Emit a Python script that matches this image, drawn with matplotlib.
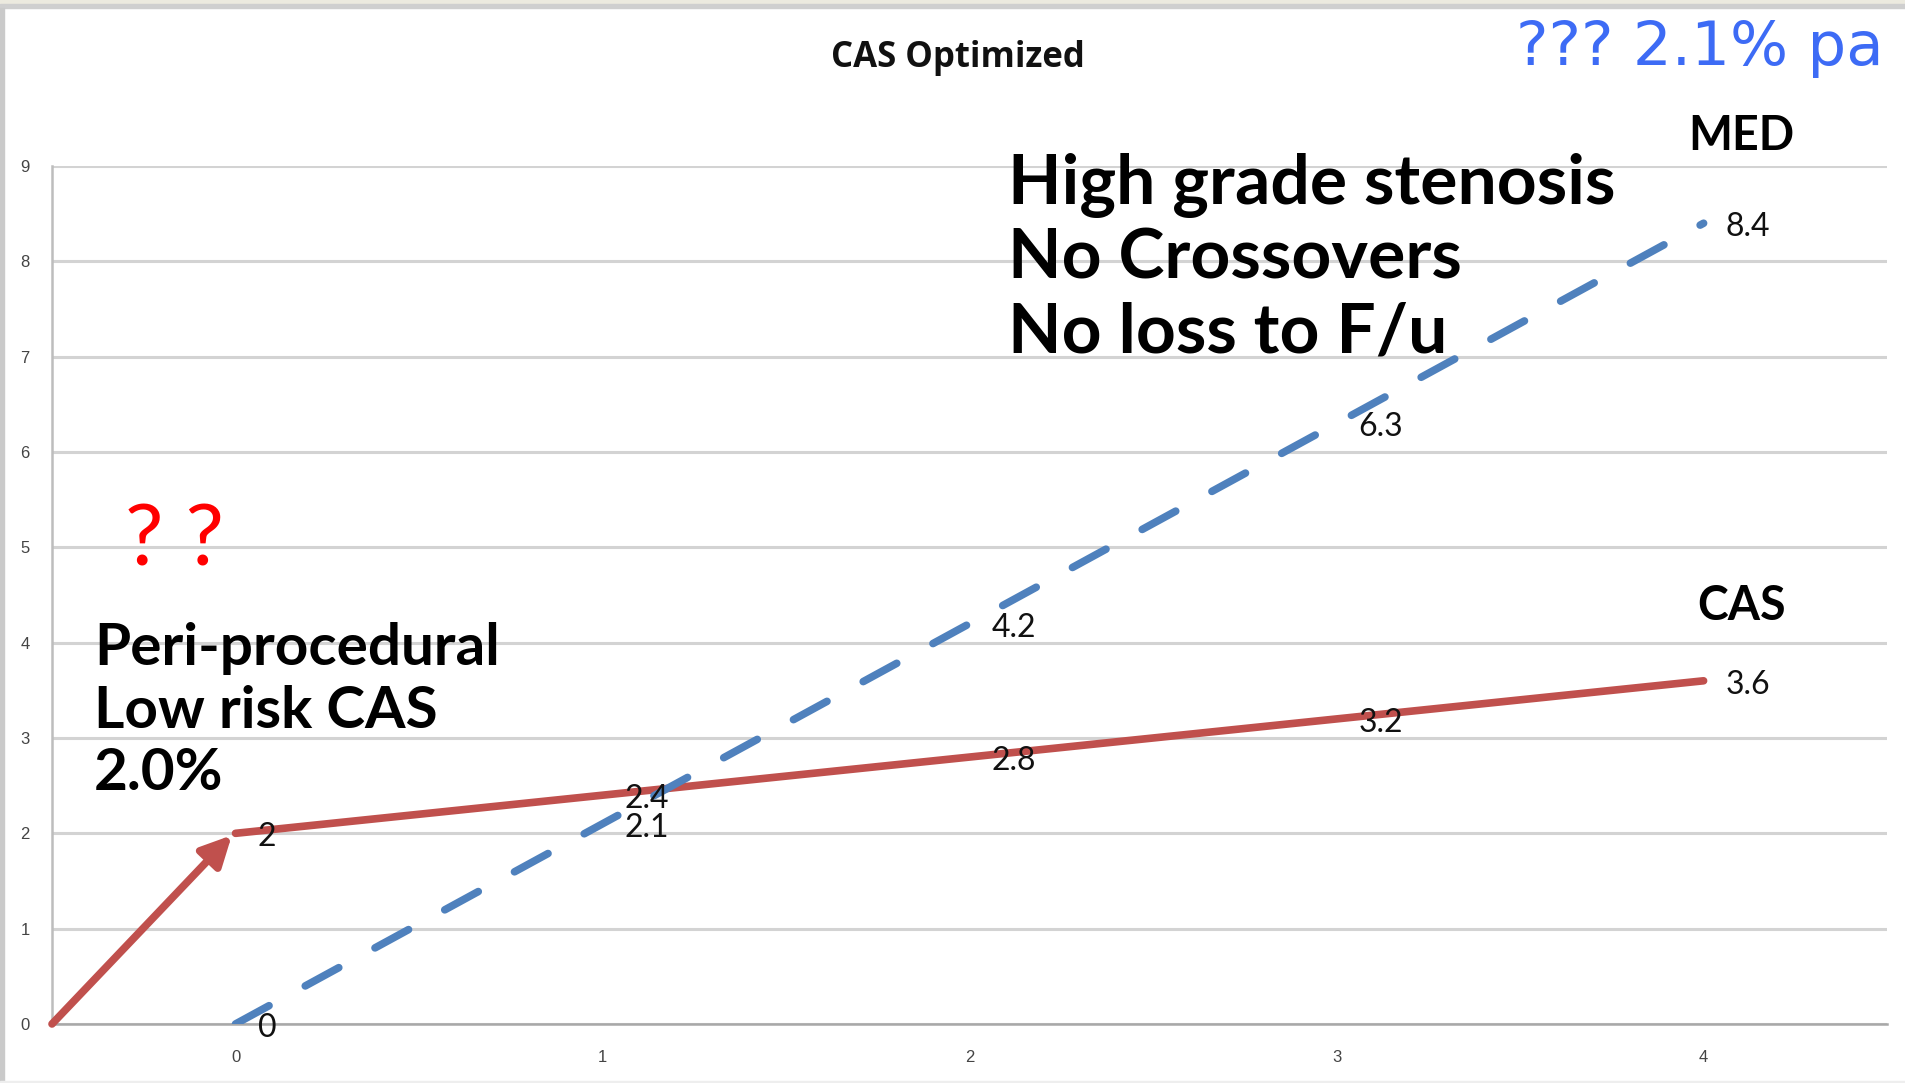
import matplotlib.pyplot as plt
from matplotlib.patches import Rectangle

# dados do gráfico
anos = [0, 1, 2, 3, 4]
cas = [2, 2.4, 2.8, 3.2, 3.6]
med = [0, 2.1, 4.2, 6.3, 8.4]
y_ticks = list(range(10))

cor_cas = '#C0504D'
cor_med = '#4F81BD'

fig = plt.figure(figsize=(19.05, 10.83), dpi=100)
ax = fig.add_axes([0.0273, 0.0545, 0.9633, 0.7922])

# borda da imagem (print de slide)
fig.patches.append(Rectangle((0, 0.9965), 1, 0.0035, transform=fig.transFigure,
                             color='#ECEADF', zorder=0))
fig.patches.append(Rectangle((0, 0.9925), 1, 0.004, transform=fig.transFigure,
                             color='#CFCFCF', zorder=0))
fig.patches.append(Rectangle((0, 0), 0.0022, 0.9925, transform=fig.transFigure,
                             color='#CACACA', zorder=0))
fig.patches.append(Rectangle((0, 0), 1, 0.002, transform=fig.transFigure,
                             color='#EEEEEE', zorder=0))

# linhas
ax.plot(anos, cas, color=cor_cas, lw=5.5, solid_capstyle='round', zorder=3)
ax.plot(anos, med, color=cor_med, lw=5.5, dashes=(5.0, 5.4),
        dash_capstyle='round', zorder=3)

# rótulos dos pontos
for x, v in zip(anos, cas):
    ax.annotate(f'{v:g}', (x, v), xytext=(22, -4), textcoords='offset pixels',
                ha='left', va='center', fontsize=23, family='Lato', color='#111111')
for x, v in zip(anos, med):
    ax.annotate(f'{v:g}', (x, v), xytext=(22, -4), textcoords='offset pixels',
                ha='left', va='center', fontsize=23, family='Lato', color='#111111')

# seta vermelha
ax.annotate('', xy=(-0.01, 1.98), xytext=(-0.5, 0),
            arrowprops=dict(arrowstyle='-|>', color=cor_cas, lw=5.5,
                            mutation_scale=45, shrinkA=0, shrinkB=0),
            annotation_clip=False, zorder=4)

# eixos
ax.set_xlim(-0.5, 4.5)
ax.set_ylim(0, 9)
ax.set_xticks(anos)
ax.set_yticks(y_ticks)
ax.tick_params(length=0, labelsize=12, labelcolor='#444444')
ax.tick_params(axis='y', pad=16)
ax.tick_params(axis='x', pad=19)
for lbl in ax.get_xticklabels() + ax.get_yticklabels():
    lbl.set_family('Liberation Sans')
ax.grid(axis='y', color='#D3D3D3', lw=2.2)
ax.set_axisbelow(True)
for s in ['top', 'right']:
    ax.spines[s].set_visible(False)
ax.spines['left'].set_color('#BDBDBD')
ax.spines['left'].set_linewidth(1.8)
ax.spines['bottom'].set_color('#A8A8A8')
ax.spines['bottom'].set_linewidth(1.8)

# títulos e textos
fig.text(0.503, 0.9465, 'CAS Optimized', ha='center', va='center',
         fontsize=25, fontweight='bold', family='Open Sans', color='#111111')
fig.text(0.989, 0.955, '??? 2.1% pa', ha='right', va='center',
         fontsize=44, family='DejaVu Sans', color='#3D6BF5')

ax.text(2.104, 8.03, 'High grade stenosis\nNo Crossovers\nNo loss to F/u',
        ha='left', va='center', fontsize=50, fontweight='bold', family='Lato',
        color='black', linespacing=1.2)
ax.text(-0.385, 3.28, 'Peri-procedural\nLow risk CAS\n2.0%',
        ha='left', va='center', fontsize=42, fontweight='bold', family='Lato',
        color='black', linespacing=1.22)
ax.text(-0.166, 5.06, '? ?', ha='center', va='center', fontsize=62,
        family='Lato', color='#FF0000')
ax.text(4.104, 9.31, 'MED', ha='center', va='center', fontsize=33.5,
        fontweight='bold', family='Lato', color='black', clip_on=False)
ax.text(4.104, 4.38, 'CAS', ha='center', va='center', fontsize=33.5,
        fontweight='bold', family='Lato', color='black')

fig.savefig('out.png', dpi=100)
